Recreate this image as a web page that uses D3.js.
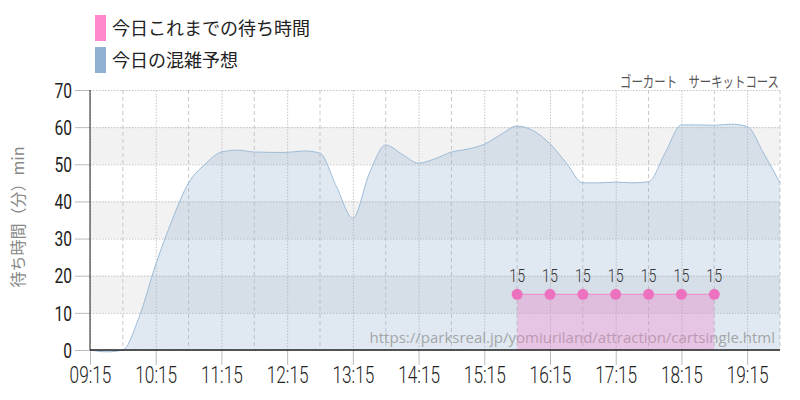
<!DOCTYPE html>
<html>
<head>
<meta charset="utf-8">
<script src="https://cdn.jsdelivr.net/npm/d3@7"></script>
<style>
  body { margin: 0; background: #fff; }
  svg { display: block; }
  .num { font-family: Roboto, sans-serif; font-weight: 400; }
  .jp { font-family: "Noto Sans CJK JP", sans-serif; }
</style>
</head>
<body>
<svg id="chart" width="800" height="400"></svg>
<script>
// forecast for today, every 15 minutes
let forecastTimes = ["09:15","09:30","09:45","10:00","10:15","10:30","10:45","11:00","11:15","11:30",
  "11:45","12:00","12:15","12:30","12:45","13:00","13:15","13:30","13:45","14:00",
  "14:15","14:30","14:45","15:00","15:15","15:30","15:45","16:00","16:15","16:30",
  "16:45","17:00","17:15","17:30","17:45","18:00","18:15","18:30","18:45","19:00",
  "19:15","19:30","19:45"]
let forecastValues = [0,-0.5,0,9,23,35,45,50,53.3,53.8,
  53.3,53.2,53.2,53.6,53,44,35.5,47.5,55.2,52.7,
  50.3,51.5,53.3,54.1,55.4,58,60.3,59,55.5,50.3,
  45,45,45.2,45,45.3,53,60.6,60.6,60.5,60.8,
  60.2,53,45]

// actual wait times so far
let actualTimes = ["15:45","16:15","16:45","17:15","17:45","18:15","18:45"]
let actualValues = [15,15,15,15,15,15,15]

let xTickLabels = ["09:15","10:15","11:15","12:15","13:15","14:15","15:15","16:15","17:15","18:15","19:15"]
let xHalfLabels = ["09:45","10:45","11:45","12:45","13:45","14:45","15:45","16:45","17:45","18:45","19:45"]
let yTicks = [0,10,20,30,40,50,60,70]
let yBands = [[10,20],[30,40],[50,60]]

let parse = d3.timeParse("%H:%M")

let forecast = forecastTimes.map((t, i) => ({ date: parse(t), value: forecastValues[i] }))
let actual = actualTimes.map((t, i) => ({ date: parse(t), value: actualValues[i] }))

let width = 800
let height = 400
let margin = { top: 90, right: 20, bottom: 50, left: 90 }
let svg = d3.select("#chart")

let x = d3.scaleTime()
    .domain([parse("09:15"), parse("19:45")])
    .range([margin.left, width - margin.right])

let y = d3.scaleLinear()
    .domain([0, 70])
    .range([height - margin.bottom, margin.top])

// grey bands
svg.append("g")
  .selectAll("rect")
  .data(yBands)
  .join("rect")
  .attr("x", margin.left)
  .attr("y", d => y(d[1]))
  .attr("width", width - margin.right - margin.left)
  .attr("height", d => y(d[0]) - y(d[1]))
  .style("fill", "#f2f2f2")

// horizontal grid + left ticks
let yAxisSettings = d3.axisLeft(y)
    .tickValues(yTicks)
    .tickSize(-(width - margin.left - margin.right))
    .tickPadding(18)
    .tickFormat(d3.format("d"))

let yAxisTicks = svg.append("g")
  .attr("class", "num")
  .attr("transform", `translate(${margin.left},0)`)
  .call(yAxisSettings)
yAxisTicks.select(".domain").remove()
yAxisTicks.selectAll("line")
  .style("stroke", "#c4c4c4")
  .style("stroke-dasharray", "1.5,1.5")
yAxisTicks.selectAll(".tick").append("line")
  .attr("x1", -15).attr("x2", 0)
  .style("stroke", "#bbb")
yAxisTicks.selectAll("text")
  .attr("x", -18 / 0.78)
  .attr("dy", "0.36em")
  .attr("transform", "scale(0.78,1)")
  .style("font-size", "20px")
  .style("fill", "#222")

// vertical half-hour grid (dashed)
svg.append("g")
  .selectAll("line")
  .data(xHalfLabels)
  .join("line")
  .attr("x1", d => x(parse(d)))
  .attr("x2", d => x(parse(d)))
  .attr("y1", y(70))
  .attr("y2", y(0))
  .style("stroke", "#c8c8c8")
  .style("stroke-dasharray", "4,3")

// x axis with hour ticks (dotted grid)
let xAxisSettings = d3.axisBottom(x)
    .tickValues(xTickLabels.map(parse))
    .tickSize(15)
    .tickPadding(6)
    .tickFormat(d3.timeFormat("%H:%M"))

let xAxisTicks = svg.append("g")
  .attr("class", "num")
  .attr("transform", `translate(0,${y(0)})`)
  .call(xAxisSettings)
xAxisTicks.select(".domain").remove()
xAxisTicks.selectAll("line").style("stroke", "#bbb")
xAxisTicks.selectAll(".tick").append("line")
  .attr("y1", 0).attr("y2", y(70) - y(0))
  .style("stroke", "#c4c4c4")
  .style("stroke-dasharray", "1.5,1.5")
xAxisTicks.selectAll("text")
  .attr("y", 33)
  .attr("dy", null)
  .attr("transform", "scale(0.75,1)")
  .style("font-size", "23px")
  .style("font-weight", "300")
  .style("fill", "#222")

// forecast area
let area = d3.area()
    .x(d => x(d.date))
    .y0(y(0))
    .y1(d => y(d.value))
    .curve(d3.curveMonotoneX)

let line = d3.line()
    .x(d => x(d.date))
    .y(d => y(d.value))
    .curve(d3.curveMonotoneX)

svg.append("path")
  .datum(forecast)
  .attr("d", area)
  .style("fill", "rgba(143, 176, 208, 0.28)")

svg.append("path")
  .datum(forecast)
  .attr("d", line)
  .style("fill", "none")
  .style("stroke", "#9dbcd8")
  .style("stroke-width", "1px")

// source url
svg.append("text")
  .attr("x", 775)
  .attr("y", 343)
  .attr("text-anchor", "end")
  .style("font-family", "'Open Sans', sans-serif")
  .style("font-size", "15px")
  .style("fill", "#9a9a9a")
  .style("opacity", 0.85)
  .text("https://parksreal.jp/yomiuriland/attraction/cartsingle.html")

// actual wait times
let actualArea = d3.area()
    .x(d => x(d.date))
    .y0(y(0))
    .y1(d => y(d.value))

svg.append("path")
  .datum(actual)
  .attr("d", actualArea)
  .style("fill", "rgba(240, 130, 200, 0.35)")

svg.append("path")
  .datum(actual)
  .attr("d", d3.line().x(d => x(d.date)).y(d => y(d.value)))
  .style("fill", "none")
  .style("stroke", "#ee88c8")
  .style("stroke-width", "1px")

svg.append("g")
  .selectAll("circle")
  .data(actual)
  .join("circle")
  .attr("cx", d => x(d.date))
  .attr("cy", d => y(d.value))
  .attr("r", 5.5)
  .style("fill", "#ec72bf")

svg.append("g")
  .attr("class", "num")
  .selectAll("text")
  .data(actual)
  .join("text")
  .attr("x", d => x(d.date) / 0.75)
  .attr("y", d => y(d.value) - 12)
  .attr("text-anchor", "middle")
  .attr("transform", "scale(0.75,1)")
  .style("font-size", "19px")
  .style("font-weight", "300")
  .style("fill", "#333")
  .text(d => d.value)

// axis lines
svg.append("line")
  .attr("x1", margin.left).attr("x2", margin.left)
  .attr("y1", y(70)).attr("y2", y(0))
  .style("stroke", "#222")
svg.append("line")
  .attr("x1", margin.left).attr("x2", width - margin.right)
  .attr("y1", y(0)).attr("y2", y(0))
  .style("stroke", "#222")
  .style("stroke-width", "1.5px")

// y axis title
svg.append("text")
  .attr("class", "jp")
  .attr("transform", "translate(24,217) rotate(-90)")
  .attr("text-anchor", "middle")
  .style("font-size", "16px")
  .style("fill", "#888")
  .text("待ち時間（分）min")

// attraction name
svg.append("text")
  .attr("class", "jp")
  .attr("x", 779 / 0.76)
  .attr("y", 87)
  .attr("text-anchor", "end")
  .attr("transform", "scale(0.76,1)")
  .style("font-size", "15px")
  .style("fill", "#555")
  .text("ゴーカート　サーキットコース")

// legend
let legendItems = [
  { label: "今日これまでの待ち時間", color: "#ff88cc", y: 15 },
  { label: "今日の混雑予想", color: "#8fb0d0", y: 47 }
]
let legend = svg.append("g")
legend.selectAll("rect")
  .data(legendItems)
  .join("rect")
  .attr("x", 95)
  .attr("y", d => d.y)
  .attr("width", 11)
  .attr("height", 26)
  .style("fill", d => d.color)
legend.selectAll("text")
  .data(legendItems)
  .join("text")
  .attr("class", "jp")
  .attr("x", 112)
  .attr("y", d => d.y + 20)
  .style("font-size", "18px")
  .style("fill", "#222")
  .text(d => d.label)
</script>
</body>
</html>
